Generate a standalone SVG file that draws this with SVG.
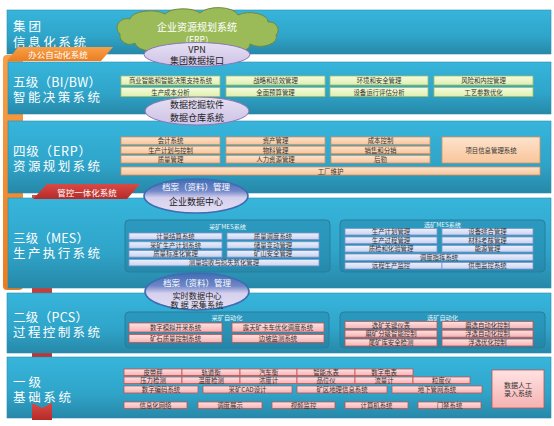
<svg xmlns="http://www.w3.org/2000/svg" width="554" height="426" viewBox="0 0 554 426">
<defs>
<linearGradient id="gPanel" x1="0" y1="0" x2="0" y2="1"><stop offset="0" stop-color="#37b5db"/><stop offset="0.6" stop-color="#2fa4c9"/><stop offset="1" stop-color="#2788a8"/></linearGradient>
<linearGradient id="gGreen" x1="0" y1="0" x2="0" y2="1"><stop offset="0" stop-color="#f6fbe0"/><stop offset="1" stop-color="#e0efae"/></linearGradient>
<linearGradient id="gOrange" x1="0" y1="0" x2="0" y2="1"><stop offset="0" stop-color="#fde3cc"/><stop offset="1" stop-color="#f9c59b"/></linearGradient>
<linearGradient id="gBlue" x1="0" y1="0" x2="0" y2="1"><stop offset="0" stop-color="#eef1fb"/><stop offset="1" stop-color="#c9d3f1"/></linearGradient>
<linearGradient id="gPink" x1="0" y1="0" x2="0" y2="1"><stop offset="0" stop-color="#ffe3e3"/><stop offset="1" stop-color="#f6b2b2"/></linearGradient>
<linearGradient id="gLav" x1="0" y1="0" x2="0" y2="1"><stop offset="0" stop-color="#e6e0f3"/><stop offset="1" stop-color="#cdc2e6"/></linearGradient>
<linearGradient id="gDC" x1="0" y1="0" x2="0" y2="1"><stop offset="0" stop-color="#3f6db5"/><stop offset="0.35" stop-color="#6f86c8"/><stop offset="0.55" stop-color="#d6d0ee"/><stop offset="1" stop-color="#e3dff3"/></linearGradient>
<linearGradient id="gRed" x1="0" y1="0" x2="0" y2="1"><stop offset="0" stop-color="#d94a45"/><stop offset="1" stop-color="#b52a28"/></linearGradient>
<linearGradient id="gOr" x1="0" y1="0" x2="0" y2="1"><stop offset="0" stop-color="#f7a04a"/><stop offset="1" stop-color="#ec7d1e"/></linearGradient>
<style>
text{font-family:"Noto Sans CJK SC","Noto Sans",sans-serif}
.panel{fill:url(#gPanel);stroke:#2b8db0;stroke-width:0.6}
.title{fill:#fff;font-size:12.5px}
.t{fill:#333;font-size:6.4px;text-anchor:middle;dominant-baseline:central}
.gb{fill:url(#gGreen);stroke:#a4bf62;stroke-width:0.8}
.ob{fill:url(#gOrange);stroke:#d6925e;stroke-width:0.8}
.bb{fill:url(#gBlue);stroke:#7f95cf;stroke-width:0.8}
.pb{fill:url(#gPink);stroke:#c9504f;stroke-width:0.8}
.grp{fill:#1d7599;fill-opacity:0.35;stroke:#2a7c9c;stroke-width:1}
.gl{fill:#e8f6fb;font-size:6.2px;text-anchor:middle;dominant-baseline:central}
.lav{fill:url(#gLav);stroke:#8a74b6;stroke-width:1}
.dc{fill:url(#gDC);stroke:#3f6cb3;stroke-width:1.6}
.et{fill:#222;font-size:9px;text-anchor:middle;dominant-baseline:central}
.wt{fill:#fff;font-size:8.5px;text-anchor:middle;dominant-baseline:central}
</style>
</defs>
<rect width="554" height="426" fill="#fff"/>

<!-- left decorations -->
<g id="deco">
<rect x="3" y="55" width="20" height="235" rx="4" fill="url(#gOr)"/>
<rect x="32" y="195" width="20" height="225" fill="url(#gRed)"/>
</g>

<!-- panels -->
<g id="panel-top"><rect class="panel" x="7" y="10" width="544" height="44"/>
<text class="title" x="13" y="31" textLength="28">集团</text><text class="title" x="13" y="46.5" textLength="73">信息化系统</text></g>
<g id="panel-l5"><rect class="panel" x="8" y="62" width="543" height="52"/>
<text class="title" x="13" y="87" textLength="88">五级（BI/BW）</text><text class="title" x="13" y="102" textLength="87">智能决策系统</text></g>
<g id="panel-l4"><rect class="panel" x="8" y="121" width="543" height="72"/>
<text class="title" x="13" y="155.5" textLength="78">四级（ERP）</text><text class="title" x="13" y="170.5" textLength="87">资源规划系统</text></g>
<g id="panel-l3"><rect class="panel" x="8" y="198" width="543" height="90"/>
<text class="title" x="13" y="242.5" textLength="76">三级（MES）</text><text class="title" x="13" y="257.5" textLength="87">生产执行系统</text></g>
<g id="panel-l2"><rect class="panel" x="7" y="293" width="544" height="60"/>
<text class="title" x="13" y="322" textLength="75">二级（PCS）</text><text class="title" x="13" y="337" textLength="87">过程控制系统</text></g>
<g id="panel-l1"><rect class="panel" x="7" y="357" width="544" height="61"/>
<text class="title" x="13" y="386.5" textLength="28">一级</text><text class="title" x="13" y="401.5" textLength="58">基础系统</text></g>

<!-- tabs -->
<g id="tab-oa"><polygon points="18,47 113,47 101,61 7,61" fill="url(#gOr)"/>
<text x="58" y="54" fill="#fff" font-size="8.5" text-anchor="middle" dominant-baseline="central">办公自动化系统</text></g>
<g id="tab-mc"><polygon points="47,184 140,184 127,199 33,199" fill="url(#gRed)"/>
<text x="87" y="191.5" fill="#fff" font-size="8.5" text-anchor="middle" dominant-baseline="central">管控一体化系统</text></g>
<g id="tab-red-bottom"><polygon points="32,403 42,408 52,403 52,420 32,420" fill="url(#gRed)"/></g>

<!-- cloud -->
<g id="erp-cloud">
<path d="M120,34 A10,9 0 0 1 130,19 A20,9 0 0 1 165,14 A20,9 0 0 1 200,13 A20,9 0 0 1 238,15 A18,9 0 0 1 268,22 A9,8 0 0 1 276,35 A16,9 0 0 1 250,44 A20,9 0 0 1 210,45 A20,9 0 0 1 170,45 A18,9 0 0 1 135,43 A10,9 0 0 1 120,34 Z" fill="#9bbb59" stroke="#71893f" stroke-width="1"/>
<text x="197" y="26.5" fill="#fff" font-size="10" text-anchor="middle" dominant-baseline="central">企业资源规划系统</text>
<text x="197" y="38.5" fill="#fff" font-size="8.5" text-anchor="middle" dominant-baseline="central">（ERP）</text>
</g>

<!-- ellipses -->
<g id="vpn"><ellipse class="lav" cx="197" cy="54.5" rx="53" ry="12"/>
<text class="et" x="197" y="49">VPN</text><text class="et" x="197" y="60.5">集团数据接口</text></g>
<g id="datamining"><ellipse class="lav" cx="197" cy="111" rx="52" ry="14"/>
<text class="et" x="197" y="104.5">数据挖掘软件</text><text class="et" x="197" y="117.5">数据仓库系统</text></g>
<g id="edc"><ellipse class="dc" cx="196" cy="196" rx="52" ry="17"/>
<text class="wt" x="196" y="186">档案（资料）管理</text><text class="et" x="196" y="201.5">企业数据中心</text></g>
<g id="rtdc"><ellipse class="dc" cx="197" cy="291.5" rx="52" ry="18.5"/>
<text class="wt" x="197" y="281.5">档案（资料）管理</text><text class="et" x="197" y="294.5" style="font-size:8.2px">实时数据中心</text><text class="et" x="197" y="303.8" style="font-size:8.2px">数 据 采集系统</text></g>

<!-- level 5 -->
<g id="l5-boxes">
<rect class="gb" x="121" y="76" width="99" height="9"/><text class="t" x="170.5" y="80.5">商业智能和智能决策支持系统</text>
<rect class="gb" x="226" y="76" width="99" height="9"/><text class="t" x="275.5" y="80.5">战略和绩效管理</text>
<rect class="gb" x="330" y="76" width="98" height="9"/><text class="t" x="379" y="80.5">环境和安全管理</text>
<rect class="gb" x="434" y="76" width="99" height="9"/><text class="t" x="483.5" y="80.5">风险和内控管理</text>
<rect class="gb" x="121" y="87.5" width="99" height="9"/><text class="t" x="170.5" y="92">生产成本分析</text>
<rect class="gb" x="226" y="87.5" width="99" height="9"/><text class="t" x="275.5" y="92">全面预算管理</text>
<rect class="gb" x="330" y="87.5" width="98" height="9"/><text class="t" x="379" y="92">设备运行评估分析</text>
<rect class="gb" x="434" y="87.5" width="99" height="9"/><text class="t" x="483.5" y="92">工艺参数优化</text>
</g>

<!-- level 4 -->
<g id="l4-boxes">
<rect class="ob" x="121" y="137" width="99" height="7.5"/><text class="t" x="170.5" y="140.8">会计系统</text>
<rect class="ob" x="226" y="137" width="99" height="7.5"/><text class="t" x="275.5" y="140.8">资产管理</text>
<rect class="ob" x="331" y="137" width="99" height="7.5"/><text class="t" x="380.5" y="140.8">成本控制</text>
<rect class="ob" x="121" y="146.2" width="99" height="7.5"/><text class="t" x="170.5" y="150">生产计划与控制</text>
<rect class="ob" x="226" y="146.2" width="99" height="7.5"/><text class="t" x="275.5" y="150">物料管理</text>
<rect class="ob" x="331" y="146.2" width="99" height="7.5"/><text class="t" x="380.5" y="150">销售和分销</text>
<rect class="ob" x="121" y="155.5" width="99" height="7.5"/><text class="t" x="170.5" y="159.2">质量管理</text>
<rect class="ob" x="226" y="155.5" width="99" height="7.5"/><text class="t" x="275.5" y="159.2">人力资源管理</text>
<rect class="ob" x="331" y="155.5" width="99" height="7.5"/><text class="t" x="380.5" y="159.2">后勤</text>
<rect class="ob" x="442" y="137" width="98" height="26"/><text class="t" x="491" y="150">项目信息管理系统</text>
<rect class="ob" x="121" y="167" width="419" height="8"/><text class="t" x="330.5" y="171">工厂维护</text>
</g>

<!-- level 3 -->
<g id="mes-mining">
<rect class="grp" x="125" y="220" width="205" height="52" rx="4"/>
<text class="gl" x="227.5" y="226.8">采矿MES系统</text>
<rect class="bb" x="129" y="233" width="93" height="6.5"/><text class="t" x="175.5" y="236.3">计量结算系统</text>
<rect class="bb" x="227" y="233" width="92" height="6.5"/><text class="t" x="273" y="236.3">质量调度系统</text>
<rect class="bb" x="129" y="241.8" width="93" height="6.5"/><text class="t" x="175.5" y="245">采矿生产计划系统</text>
<rect class="bb" x="227" y="241.8" width="92" height="6.5"/><text class="t" x="273" y="245">储量变动管理</text>
<rect class="bb" x="129" y="250.6" width="93" height="6.5"/><text class="t" x="175.5" y="253.9">质量标准化管理</text>
<rect class="bb" x="227" y="250.6" width="92" height="6.5"/><text class="t" x="273" y="253.9">矿山安全管理</text>
<rect class="bb" x="129" y="259.4" width="190" height="6.5"/><text class="t" x="224" y="262.7">测量验收与损失贫化管理</text>
</g>
<g id="mes-conc">
<rect class="grp" x="340" y="220" width="205" height="52" rx="4"/>
<text class="gl" x="442.5" y="224.8">选矿MES系统</text>
<rect class="bb" x="345" y="228.5" width="92" height="6.5"/><text class="t" x="391" y="231.8">生产计划管理</text>
<rect class="bb" x="442" y="228.5" width="91" height="6.5"/><text class="t" x="487.5" y="231.8">设备综合管理</text>
<rect class="bb" x="345" y="237" width="92" height="6.5"/><text class="t" x="391" y="240.3">生产过程管理</text>
<rect class="bb" x="442" y="237" width="91" height="6.5"/><text class="t" x="487.5" y="240.3">材料考核管理</text>
<rect class="bb" x="345" y="245.5" width="92" height="6.5"/><text class="t" x="391" y="248.8">质检和化验管理</text>
<rect class="bb" x="442" y="245.5" width="91" height="6.5"/><text class="t" x="487.5" y="248.8">能源管理</text>
<rect class="bb" x="345" y="254" width="188" height="6.5"/><text class="t" x="439" y="257.3">调度指挥系统</text>
<rect class="bb" x="345" y="262.5" width="97" height="6.5"/><text class="t" x="391" y="265.8">远程生产监控</text>
<rect class="bb" x="442" y="262.5" width="91" height="6.5"/><text class="t" x="487.5" y="265.8">供电监控系统</text>
</g>

<!-- level 2 -->
<g id="pcs-mining">
<rect class="grp" x="125" y="312" width="204" height="36" rx="4"/>
<text class="gl" x="227" y="317">采矿自动化</text>
<rect class="pb" x="129" y="323" width="93" height="9"/><text class="t" x="175.5" y="327.5">数字模拟开采系统</text>
<rect class="pb" x="232" y="323" width="92" height="9"/><text class="t" x="278" y="327.5">露天矿卡车优化调度系统</text>
<rect class="pb" x="129" y="334.5" width="93" height="8"/><text class="t" x="175.5" y="338.5">矿石质量控制系统</text>
<rect class="pb" x="232" y="334.5" width="92" height="8"/><text class="t" x="278" y="338.5">边坡监测系统</text>
</g>
<g id="pcs-conc">
<rect class="grp" x="340" y="312" width="205" height="36" rx="4"/>
<text class="gl" x="442.5" y="317.3">选矿自动化</text>
<rect class="pb" x="345" y="321.5" width="92" height="7"/><text class="t" x="391" y="325">选矿关键仪表</text>
<rect class="pb" x="442" y="321.5" width="91" height="7"/><text class="t" x="487.5" y="325">磨选自动化控制</text>
<rect class="pb" x="345" y="330.2" width="92" height="7"/><text class="t" x="391" y="333.7">磨矿分级智能控制</text>
<rect class="pb" x="442" y="330.2" width="91" height="7"/><text class="t" x="487.5" y="333.7">浮选自动化控制</text>
<rect class="pb" x="345" y="339" width="92" height="7"/><text class="t" x="391" y="342.5">尾矿库安全检测</text>
<rect class="pb" x="442" y="339" width="91" height="7"/><text class="t" x="487.5" y="342.5">浮选优化控制</text>
</g>

<!-- level 1 -->
<g id="basic-boxes">
<rect class="pb" x="124" y="369" width="58" height="6.5"/><text class="t" x="153" y="372.3">皮带秤</text>
<rect class="pb" x="182" y="369" width="58" height="6.5"/><text class="t" x="211" y="372.3">轨道衡</text>
<rect class="pb" x="240" y="369" width="57" height="6.5"/><text class="t" x="268.5" y="372.3">汽车衡</text>
<rect class="pb" x="297" y="369" width="58" height="6.5"/><text class="t" x="326" y="372.3">智能水表</text>
<rect class="pb" x="355" y="369" width="58" height="6.5"/><text class="t" x="384" y="372.3">数字电表</text>
<rect class="pb" x="124" y="377" width="58" height="6.5"/><text class="t" x="153" y="380.3">压力检测</text>
<rect class="pb" x="182" y="377" width="58" height="6.5"/><text class="t" x="211" y="380.3">温度检测</text>
<rect class="pb" x="240" y="377" width="57" height="6.5"/><text class="t" x="268.5" y="380.3">浓度计</text>
<rect class="pb" x="297" y="377" width="58" height="6.5"/><text class="t" x="326" y="380.3">品位仪</text>
<rect class="pb" x="355" y="377" width="58" height="6.5"/><text class="t" x="384" y="380.3">流量计</text>
<rect class="pb" x="413" y="377" width="57" height="6.5"/><text class="t" x="441.5" y="380.3">粒度仪</text>
<rect class="pb" x="124" y="386" width="74" height="7"/><text class="t" x="161" y="389.5">数字编码系统</text>
<rect class="pb" x="203" y="386" width="89" height="7"/><text class="t" x="247.5" y="389.5">采矿CAD设计</text>
<rect class="pb" x="297" y="386" width="90" height="7"/><text class="t" x="342" y="389.5">矿区地理信息系统</text>
<rect class="pb" x="392" y="386" width="90" height="7"/><text class="t" x="437" y="389.5">地下管网系统</text>
<rect class="pb" x="124" y="402" width="63" height="6.5"/><text class="t" x="155.5" y="405.3">信息化网络</text>
<rect class="pb" x="198" y="402" width="64" height="6.5"/><text class="t" x="230" y="405.3">调度展示</text>
<rect class="pb" x="272" y="402" width="63" height="6.5"/><text class="t" x="303.5" y="405.3">视频监控</text>
<rect class="pb" x="345" y="402" width="63" height="6.5"/><text class="t" x="376.5" y="405.3">计算机系统</text>
<rect class="pb" x="418" y="402" width="63" height="6.5"/><text class="t" x="449.5" y="405.3">门禁系统</text>
</g>
<g id="manual-entry">
<rect class="pb" x="492" y="370" width="52" height="38"/>
<text class="t" x="518" y="384.5" style="font-size:7px">数据人工</text>
<text class="t" x="518" y="393" style="font-size:7px">录入系统</text>
</g>
</svg>
